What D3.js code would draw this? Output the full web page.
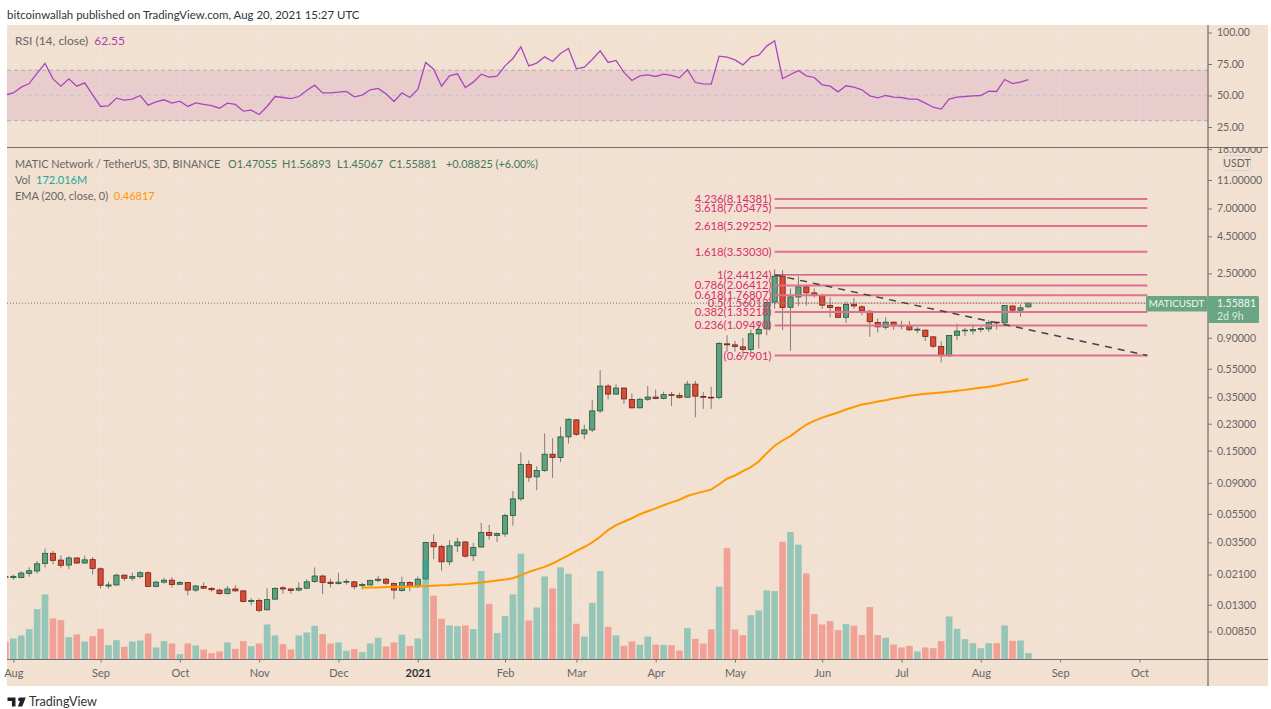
<!DOCTYPE html>
<html>
<head>
<meta charset="utf-8">
<script src="https://cdn.jsdelivr.net/npm/d3@7"></script>
<style>
  html, body { margin: 0; padding: 0; background: #fff; overflow: hidden; }
  svg { display: block; }
  text { font-family: Lato, sans-serif; }
</style>
</head>
<body>
<svg id="chart" width="1271" height="709"></svg>
<script>
// MATICUSDT 3D candles, one entry per bar
var opens = [
  .0203,.0200,.0200,.0214,.0222,.0250,.0294,.0264,.0244,.0273,
  .0252,.0266,.0230,.0175,.0178,.0208,.0198,.0203,.0216,.0174,
  .0186,.0192,.0180,.0185,.0164,.0174,.0168,.0164,.0155,.0167,
  .0162,.0137,.0139,.0120,.0142,.0170,.0167,.0164,.0169,.0188,
  .0205,.0186,.0182,.0186,.0187,.0176,.0178,.0191,.0195,.0182,
  .0163,.0185,.0173,.0196,.0349,.0328,.0257,.0331,.0352,.0283,
  .0325,.0409,.0391,.0400,.0535,.0698,.1205,.0990,.1095,.1417,
  .1345,.1866,.2445,.1955,.2085,.2820,.4180,.3680,.4050,.3380,
  .2960,.3390,.3510,.3440,.3650,.3600,.3500,.4310,.3540,.3500,
  .3490,.8170,.8040,.7790,.7470,.9580,1.036,1.584,2.390,1.460,
  1.720,2.020,1.835,1.760,1.505,1.455,1.245,1.535,1.470,1.372,
  1.148,1.063,1.153,1.094,1.083,1.015,1.015,.913,.784,.677,
  .936,1.004,1.004,1.026,1.036,1.153,1.141,1.490,1.394,1.47055
];
var highs = [
  .0205,.0210,.0221,.0235,.0260,.0317,.0306,.0284,.0281,.0277,
  .0284,.0277,.0235,.0187,.0212,.0210,.0216,.0221,.0221,.0190,
  .0199,.0201,.0189,.0187,.0178,.0185,.0172,.0168,.0175,.0177,
  .0164,.0144,.0144,.0169,.0172,.0175,.0169,.0186,.0195,.0235,
  .0210,.0196,.0216,.0196,.0189,.0184,.0194,.0206,.0200,.0185,
  .0203,.0189,.0203,.0351,.0397,.0337,.0362,.0375,.0356,.0347,
  .0477,.0461,.0409,.0553,.0790,.1460,.1283,.1172,.1970,.1830,
  .2190,.2500,.2460,.2260,.3360,.5380,.4310,.4310,.4090,.3720,
  .3460,.4180,.3960,.3820,.3800,.3760,.4540,.4540,.3800,.4130,
  .8400,.9360,.8560,.8970,1.026,1.160,1.584,2.660,2.630,1.968,
  2.390,2.070,1.968,1.815,1.705,1.490,1.592,1.695,1.510,1.394,
  1.223,1.245,1.165,1.177,1.172,1.063,1.026,.923,.852,.940,
  1.125,1.052,1.118,1.070,1.190,1.160,1.510,1.505,1.527,1.56893
];
var lows = [
  .0199,.0193,.0198,.0203,.0212,.0235,.0247,.0232,.0228,.0248,
  .0249,.0210,.0168,.0168,.0176,.0190,.0190,.0197,.0173,.0171,
  .0182,.0171,.0178,.0151,.0159,.0167,.0160,.0152,.0153,.0160,
  .0135,.0129,.0115,.0119,.0141,.0155,.0155,.0161,.0168,.0184,
  .0154,.0171,.0179,.0179,.0166,.0166,.0176,.0185,.0178,.0142,
  .0160,.0161,.0170,.0192,.0268,.0223,.0243,.0300,.0275,.0260,
  .0320,.0366,.0352,.0382,.0456,.0676,.0915,.0801,.1072,.0975,
  .1250,.1680,.1895,.1800,.2010,.2730,.3380,.3640,.3150,.2930,
  .2940,.3300,.3390,.3390,.3050,.3430,.3460,.2550,.2910,.2910,
  .3390,.7200,.7200,.6640,.7030,.7590,.9360,1.430,1.015,.731,
  1.490,1.500,1.705,1.425,1.245,1.225,1.140,1.425,1.285,.913,
  .980,1.026,1.020,1.031,1.004,.970,.852,.766,.609,.664,
  .866,.924,.947,.980,.990,1.026,1.130,1.335,1.255,1.45067
];
var closes = [
  .0202,.0204,.0215,.0223,.0249,.0294,.0263,.0243,.0273,.0252,
  .0265,.0231,.0177,.0178,.0208,.0198,.0203,.0216,.0174,.0186,
  .0192,.0179,.0185,.0164,.0175,.0169,.0165,.0155,.0167,.0162,
  .0137,.0139,.0119,.0141,.0168,.0167,.0163,.0169,.0187,.0205,
  .0185,.0182,.0186,.0188,.0173,.0179,.0191,.0195,.0183,.0164,
  .0185,.0174,.0195,.0349,.0326,.0257,.0331,.0352,.0281,.0323,
  .0409,.0391,.0402,.0535,.0698,.1205,.0984,.1095,.1417,.1345,
  .1866,.2470,.1945,.2085,.2820,.4180,.3680,.4050,.3410,.2960,
  .3390,.3510,.3430,.3650,.3610,.3490,.4310,.3560,.3500,.3460,
  .8230,.8040,.7840,.7470,.9580,1.026,1.576,2.390,1.453,1.720,
  2.020,1.835,1.760,1.510,1.455,1.245,1.527,1.490,1.378,1.160,
  1.070,1.153,1.087,1.083,1.020,1.031,.918,.787,.678,.932,
  1.000,1.015,1.026,1.042,1.148,1.141,1.500,1.394,1.448,1.55881
];
// volume in millions
var volumes = [
  468,556,636,804,1333,1722,1086,1042,592,662,
  477,618,812,380,512,336,477,503,689,318,
  486,424,141,424,371,265,168,212,450,283,
  486,353,424,927,636,406,265,636,715,892,
  671,424,450,230,274,194,424,574,344,450,
  655,360,556,2622,1687,1077,901,883,901,804,
  2340,1475,698,1148,1722,2799,1033,1377,2199,1881,
  2437,2269,945,609,1501,2340,865,636,362,477,
  389,609,397,389,380,238,830,547,420,795,
  1930,2945,795,645,1174,1298,1828,1810,3117,3373,
  3038,2278,1201,927,1015,777,936,892,645,1386,
  645,574,397,318,362,212,318,300,486,1139,
  812,539,433,300,433,433,901,494,503,172
];
var rsiValues = [
  50.5,52,56.6,59.5,67.7,75.4,63.2,57.4,63.2,57.4,
  60,50.5,41.3,41.8,47.9,46.3,47.1,50,42.3,45,
  46.6,43.9,45.5,41.3,44.2,42.9,42,39.9,43.9,42.9,
  37.6,38.4,34.9,41.3,49.2,48.4,47.6,49.2,54,58.2,
  52.1,52.1,52.6,53.2,48.9,50.3,54.5,55.6,51.3,45.2,
  52.1,48.4,54.8,76.2,70.9,57.4,65.6,67.2,56.3,60.6,
  66.9,64.6,65.3,73.5,79.4,88.6,73.5,75.7,80.7,77,
  83.3,87.3,71.2,72.5,78.6,85.4,76.2,77.8,68.3,61.9,
  65.6,66.4,65.1,66.9,65.9,64,70.4,60.3,59.3,59,
  81.2,80.4,78.3,74.3,80.4,82,89.2,93.4,63.5,66.7,
  69.8,65.6,64.3,58.5,57.4,52.9,57.7,56.6,54.5,49.7,
  48.1,50,48.7,48.4,47.1,47.1,43.9,40.7,39.2,47.1,
  48.7,49.2,49.7,50,53.4,53.2,62.7,59.5,60.6,62.55
];
// EMA 200 only exists from bar 45 on
var emaStart = 45;
var emaValues = [
  .0171,.0171,.0171,.0172,.0172,.0172,.0173,.0174,.0175,.0176,
  .0177,.0178,.0180,.0181,.0183,.0185,.0188,.0191,.0194,.0198,
  .0207,.0219,.0228,.0237,.0250,.0267,.0285,.0306,.0325,.0350,
  .0382,.0425,.0460,.0485,.0513,.0547,.0573,.0600,.0630,.0660,
  .0688,.0730,.0758,.0783,.0808,.0880,.0960,
  .1011,.1083,.1155,.1263,.1441,.1622,.1762,.1889,.2076,.2270,
  .2406,.2533,.2640,.2749,.2880,.3000,.3120,.3185,.3275,.3342,
  .3434,.3505,.3580,.3640,.3695,.3735,.3777,.3815,.3875,.3935,
  .4000,.4065,.4130,.4220,.4330,.4450,.4545,.46817
];

var priceTicks = [18, 11, 7, 4.5, 2.5, 0.9, 0.55, 0.35, 0.23, 0.15, 0.09, 0.055, 0.035, 0.021, 0.013, 0.0085];
var rsiTicks = [100, 75, 50, 25];
var monthBars = [1, 12, 22, 32, 42, 52, 63, 72, 82, 92, 103, 113, 123, 133, 143];
var monthLabels = ["Aug", "Sep", "Oct", "Nov", "Dec", "2021", "Feb", "Mar", "Apr", "May", "Jun", "Jul", "Aug", "Sep", "Oct"];

var fibLabels = ["4.236(8.14381)", "3.618(7.05475)", "2.618(5.29252)", "1.618(3.53030)", "1(2.44124)", "0.786(2.06412)", "0.618(1.76807)", "0.5(1.56013)", "0.382(1.35218)", "0.236(1.09490)", "(0.67901)"];
var fibPrices = [8.14381, 7.05475, 5.29252, 3.53030, 2.44124, 2.06412, 1.76807, 1.56013, 1.35218, 1.09490, 0.67901];
var fibFromBar = 97, fibToBar = 144;
var trendPrices = [2.44124, 0.67901];

var bg = "#f2e0d0", grid = "#ece6e0", axisGray = "#6f6f6f", textGray = "#666";
var upFill = "#609f80", upLine = "#1e5a3e", downFill = "#db4a33", downLine = "#74201a";
var left = 7, right = 1268, top_ = 25, bottom = 686, axisX = 1208, sepY = 147.5, baseY = 659.5;

var svg = d3.select("#chart");
var bars = d3.range(closes.length);

var x = d3.scaleLinear().domain([0, 129]).range([5.4, 1028.4]);
var yPrice = d3.scaleLog().domain([18, 0.0085]).range([149, 631.5]);
var yRsi = d3.scaleLinear().domain([100, 25]).range([32.5, 127]);
var yVol = d3.scaleLinear().domain([0, 3400]).range([baseY, 531]);

var defs = svg.append("defs");
defs.append("clipPath").attr("id", "pane").append("rect")
  .attr("x", left).attr("y", sepY).attr("width", axisX - left).attr("height", baseY - sepY);
defs.append("clipPath").attr("id", "rsiPane").append("rect")
  .attr("x", left).attr("y", top_).attr("width", axisX - left).attr("height", sepY - top_);
// axis group is translated by axisX, so this rect starts at 0
defs.append("clipPath").attr("id", "priceAxis").append("rect")
  .attr("x", 0).attr("y", sepY).attr("width", right - axisX).attr("height", bottom - sepY);

// background
svg.append("rect").attr("x", left).attr("y", top_).attr("width", right - left).attr("height", bottom - top_).attr("fill", bg);

// grid
var gridG = svg.append("g").attr("stroke", grid).attr("stroke-width", 1);
monthBars.forEach(function(b) {
  gridG.append("line").attr("x1", x(b)).attr("x2", x(b)).attr("y1", top_).attr("y2", baseY);
});
priceTicks.slice(1).forEach(function(p) {
  gridG.append("line").attr("x1", left).attr("x2", axisX).attr("y1", yPrice(p)).attr("y2", yPrice(p));
});
rsiTicks.forEach(function(r) {
  gridG.append("line").attr("x1", left).attr("x2", axisX).attr("y1", yRsi(r)).attr("y2", yRsi(r));
});

// RSI pane
svg.append("rect").attr("x", left).attr("width", axisX - left)
  .attr("y", yRsi(70)).attr("height", yRsi(30) - yRsi(70))
  .attr("fill", "#9c27b0").attr("fill-opacity", 0.1);
[70, 50, 30].forEach(function(r) {
  svg.append("line").attr("x1", left).attr("x2", axisX).attr("y1", yRsi(r)).attr("y2", yRsi(r))
    .attr("stroke", "#a9a9b5").attr("stroke-width", 1).attr("stroke-dasharray", "4,3")
    .attr("stroke-opacity", r == 50 ? 0.35 : 0.9);
});
var rsiLine = d3.line().x(function(d, i) { return x(i); }).y(function(d) { return yRsi(d); });
svg.append("path").datum(rsiValues).attr("d", rsiLine).attr("clip-path", "url(#rsiPane)")
  .attr("fill", "none").attr("stroke", "#aa47bc").attr("stroke-width", 1.3);

var pane = svg.append("g").attr("clip-path", "url(#pane)");

// candles
var candle = pane.selectAll("g.candle").data(bars).enter().append("g").attr("class", "candle");
candle.append("line")
  .attr("x1", function(i) { return x(i); }).attr("x2", function(i) { return x(i); })
  .attr("y1", function(i) { return yPrice(highs[i]); })
  .attr("y2", function(i) { return yPrice(lows[i]); })
  .attr("stroke", "#7e7e78").attr("stroke-width", 1);
candle.append("rect")
  .attr("x", function(i) { return x(i) - 2.6; }).attr("width", 5.2)
  .attr("y", function(i) { return yPrice(Math.max(opens[i], closes[i])); })
  .attr("height", function(i) { return Math.max(0.6, yPrice(Math.min(opens[i], closes[i])) - yPrice(Math.max(opens[i], closes[i]))); })
  .attr("fill", function(i) { return closes[i] >= opens[i] ? upFill : downFill; })
  .attr("stroke", function(i) { return closes[i] >= opens[i] ? upLine : downLine; })
  .attr("stroke-width", 0.8);

// volume sits over the candles, see-through
pane.selectAll("rect.vol").data(bars).enter().append("rect").attr("class", "vol")
  .attr("x", function(i) { return x(i) - 3.3; }).attr("width", 6.6)
  .attr("y", function(i) { return yVol(volumes[i]); })
  .attr("height", function(i) { return baseY - yVol(volumes[i]); })
  .attr("fill", function(i) { return closes[i] >= opens[i] ? "#26a69a" : "#ef5350"; })
  .attr("fill-opacity", 0.45);

// EMA
var emaLine = d3.line().x(function(d, i) { return x(i + emaStart); }).y(function(d) { return yPrice(d); });
pane.append("path").datum(emaValues).attr("d", emaLine)
  .attr("fill", "none").attr("stroke", "#ff9800").attr("stroke-width", 2);

// last price dotted line
svg.append("line").attr("x1", left).attr("x2", axisX)
  .attr("y1", yPrice(closes[129])).attr("y2", yPrice(closes[129]))
  .attr("stroke", "#56806a").attr("stroke-width", 1).attr("stroke-dasharray", "1,2");

// fib levels
pane.selectAll("line.fib").data(fibPrices).enter().append("line").attr("class", "fib")
  .attr("x1", x(fibFromBar)).attr("x2", x(fibToBar))
  .attr("y1", function(d) { return yPrice(d); }).attr("y2", function(d) { return yPrice(d); })
  .attr("stroke", function(d, i) { return i == 1 || i == 4 ? "#c2185b" : "#e0708f"; })
  .attr("stroke-width", function(d, i) { return i == 1 || i == 4 ? 1 : i == 7 ? 0.6 : 2; });
svg.selectAll("text.fib").data(fibLabels).enter().append("text").attr("class", "fib")
  .attr("x", x(fibFromBar) - 3)
  .attr("y", function(d, i) { return yPrice(fibPrices[i]) + 4; })
  .attr("text-anchor", "end").attr("font-size", 11.3).attr("fill", "#d62f6d")
  .text(function(d) { return d; });

// trend line
svg.append("line")
  .attr("x1", x(fibFromBar)).attr("x2", x(fibToBar))
  .attr("y1", yPrice(trendPrices[0])).attr("y2", yPrice(trendPrices[1]))
  .attr("stroke", "#444").attr("stroke-width", 1.5).attr("stroke-dasharray", "7,6");

// separators and axis lines
svg.append("line").attr("x1", left).attr("x2", right).attr("y1", sepY).attr("y2", sepY).attr("stroke", axisGray).attr("stroke-width", 1.2);
svg.append("line").attr("x1", left).attr("x2", right).attr("y1", baseY).attr("y2", baseY).attr("stroke", axisGray).attr("stroke-width", 1.2);
svg.append("line").attr("x1", axisX).attr("x2", axisX).attr("y1", top_).attr("y2", bottom).attr("stroke", "#555").attr("stroke-width", 1);

// axes
function styleAxis(g) {
  g.select(".domain").remove();
  g.selectAll("line").attr("stroke", "#777");
  g.selectAll("text").attr("fill", textGray).attr("font-size", 10.5)
    .style("font-family", "Lato, sans-serif");
}
svg.append("g").attr("transform", "translate(" + axisX + ",0)")
  .call(d3.axisRight(yRsi).tickValues(rsiTicks).tickSize(4).tickPadding(5).tickFormat(d3.format(".2f")))
  .call(styleAxis);
svg.append("g").attr("transform", "translate(" + axisX + ",0)").attr("clip-path", "url(#priceAxis)")
  .call(d3.axisRight(yPrice).tickValues(priceTicks).tickSize(4).tickPadding(5).tickFormat(d3.format(".5f")))
  .call(styleAxis);
svg.append("g").attr("transform", "translate(0," + baseY + ")")
  .call(d3.axisBottom(x).tickValues(monthBars).tickSize(3).tickPadding(7)
    .tickFormat(function(d, i) { return monthLabels[i]; }))
  .call(styleAxis)
  .selectAll("text")
  .attr("font-size", 11)
  .attr("font-weight", function(d, i) { return monthLabels[i] == "2021" ? "bold" : null; })
  .attr("fill", function(d, i) { return monthLabels[i] == "2021" ? "#333" : textGray; });

// USDT chip
svg.append("rect").attr("x", 1223.5).attr("y", 155.5).attr("width", 27).attr("height", 15).attr("rx", 3)
  .attr("fill", "none").attr("stroke", "#cfd2da");
svg.append("text").attr("x", 1237).attr("y", 167).attr("text-anchor", "middle")
  .attr("font-size", 10.5).attr("fill", textGray).text("USDT");

// last price tags
svg.append("rect").attr("x", 1146).attr("y", 296).attr("width", 61.5).attr("height", 15.5).attr("rx", 1.5).attr("fill", "#6aa584");
svg.append("text").attr("x", 1176.5).attr("y", 307.3).attr("text-anchor", "middle")
  .attr("font-size", 9.8).attr("fill", "#f4f7f2").text("MATICUSDT");
svg.append("rect").attr("x", 1208).attr("y", 296).attr("width", 51).attr("height", 27).attr("rx", 1.5).attr("fill", "#6aa584");
svg.append("text").attr("x", 1217).attr("y", 307.3).attr("font-size", 10.5).attr("fill", "#f4f7f2").text(d3.format(".5f")(closes[129]));
svg.append("text").attr("x", 1217).attr("y", 320).attr("font-size", 10.5).attr("fill", "#dfeadf").text("2d 9h");

// legend text, a part can carry its own x
function legend(px, py, size, parts) {
  var t = svg.append("text").attr("x", px).attr("y", py).attr("font-size", size).attr("xml:space", "preserve");
  parts.forEach(function(p) {
    var s = t.append("tspan").attr("fill", p[1]).text(p[0]);
    if (p[2]) s.attr("x", p[2]);
  });
}
var ohlcGreen = "#3f7a5c";
legend(7, 19, 11.45, [["bitcoinwallah published on TradingView.com, Aug 20, 2021 15:27 UTC", "#333"]]);
legend(15, 45, 12, [["RSI (14, close)  ", textGray], ["62.55", "#ab3fb8"]]);
legend(15, 168, 10.9, [["MATIC Network / TetherUS, 3D, BINANCE", textGray],
  ["O1.47055", ohlcGreen, 228], ["H1.56893", ohlcGreen, 282], ["L1.45067", ohlcGreen, 337], ["C1.55881", ohlcGreen, 389],
  ["+0.08825 (+6.00%)", ohlcGreen, 446]]);
legend(15, 184, 11, [["Vol  ", textGray], ["172.016M", "#26a69a"]]);
legend(15, 200, 11, [["EMA (200, close, 0)  ", textGray], ["0.46817", "#ff9800"]]);

// TradingView logo
svg.append("path").attr("fill", "#222")
  .attr("d", "M7.5 697.5h8v9h-3.6v-5.4H7.5zM20 697.5h5.8l-3.6 9h-4.4l2.2-5.2a1.9 1.9 0 1 1 0-3.8z");
svg.append("text").attr("x", 29).attr("y", 706).attr("font-size", 12.6).attr("fill", "#333").text("TradingView");
</script>
</body>
</html>
